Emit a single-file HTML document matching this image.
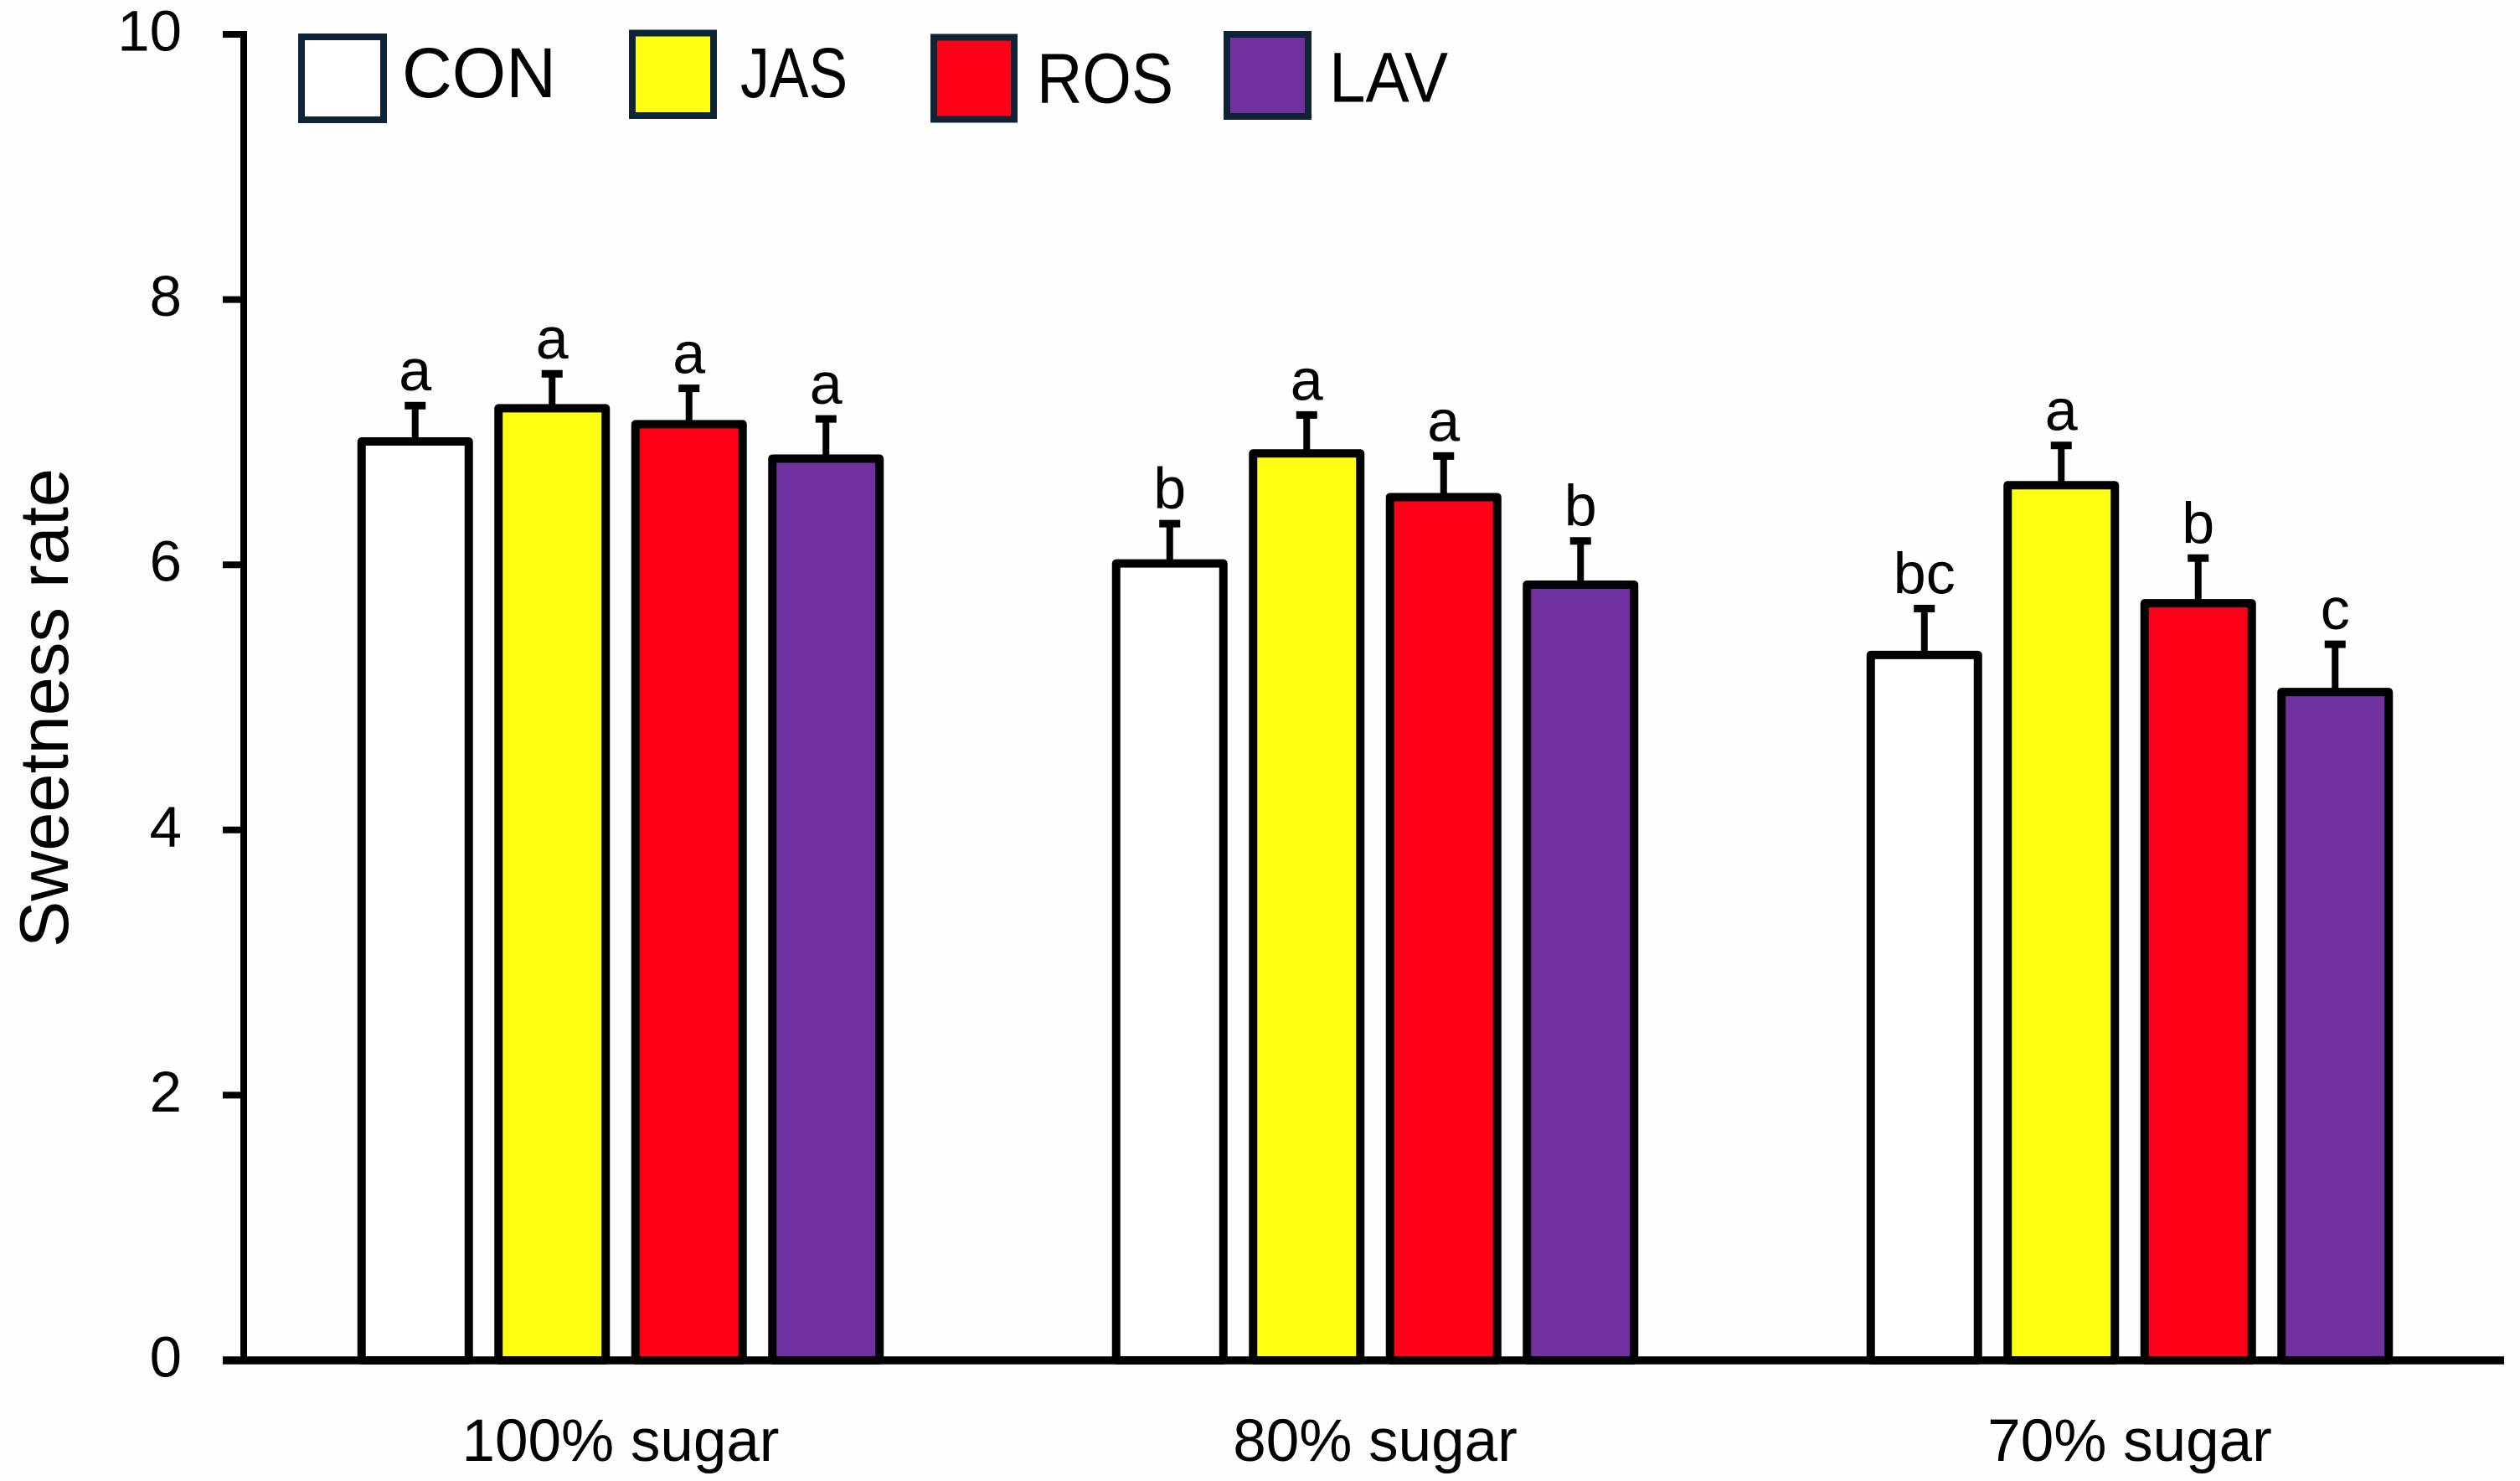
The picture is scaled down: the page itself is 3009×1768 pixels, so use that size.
<!DOCTYPE html>
<html>
<head>
<meta charset="utf-8">
<title>Sweetness rate chart</title>
<style>
html,body{margin:0;padding:0;background:#fff;}
svg{display:block;}
text{font-family:"Liberation Sans",Arial,sans-serif;fill:#000;}
</style>
</head>
<body>
<svg id="chart" xmlns="http://www.w3.org/2000/svg" width="3009" height="1768" viewBox="0 0 3009 1768">
  <rect x="0" y="0" width="3009" height="1768" fill="#fefefe"/>
  <text transform="translate(81 845) rotate(-90)" text-anchor="middle" font-size="83">Sweetness rate</text>
  <g id="bars"></g>
  <g id="axes"></g>
  <g>
    <g>
      <rect x="360" y="44" width="98" height="99" fill="#ffffff" stroke="#0f2437" stroke-width="8"/>
      <text x="480" y="116" font-size="84" textLength="184" lengthAdjust="spacingAndGlyphs">CON</text>
    </g>
    <g>
      <rect x="755" y="39.500" width="97" height="98.500" fill="#ffff14" stroke="#0f2437" stroke-width="8"/>
      <text x="884" y="116" font-size="84" textLength="128" lengthAdjust="spacingAndGlyphs">JAS</text>
    </g>
    <g>
      <rect x="1115" y="44.500" width="96" height="98" fill="#ff0018" stroke="#0f2437" stroke-width="8"/>
      <text x="1238" y="122.500" font-size="84" textLength="163" lengthAdjust="spacingAndGlyphs">ROS</text>
    </g>
    <g>
      <rect x="1465" y="41" width="97" height="98" fill="#7030a0" stroke="#0f2437" stroke-width="8"/>
      <text x="1587" y="121.500" font-size="84" textLength="142" lengthAdjust="spacingAndGlyphs">LAV</text>
    </g>
  </g>
</svg>
<script>
var categories = ["100% sugar", "80% sugar", "70% sugar"];
var yTickLabels = [0, 2, 4, 6, 8, 10];
var seriesNames = ["con", "jas", "ros", "lav"];
var seriesColors = ["#ffffff", "#ffff14", "#ff0018", "#7030a0"];

var conValues = [6.93, 6.01, 5.32];
var jasValues = [7.18, 6.84, 6.60];
var rosValues = [7.06, 6.51, 5.71];
var lavValues = [6.80, 5.85, 5.04];

var conErrors = [0.27, 0.30, 0.35];
var jasErrors = [0.26, 0.29, 0.30];
var rosErrors = [0.27, 0.31, 0.34];
var lavErrors = [0.30, 0.33, 0.36];

var conLetters = ["a", "b", "bc"];
var jasLetters = ["a", "a", "a"];
var rosLetters = ["a", "a", "b"];
var lavLetters = ["a", "b", "c"];

var values = [conValues, jasValues, rosValues, lavValues];
var errors = [conErrors, jasErrors, rosErrors, lavErrors];
var letters = [conLetters, jasLetters, rosLetters, lavLetters];

var NS = "http://www.w3.org/2000/svg";
function yScale(v) { return 1624 - 158.3 * v; }
function groupCenter(g) { return 741 + 901 * g; }
function xScale(g, s) { return groupCenter(g) + (s - (seriesNames.length - 1) / 2) * 163.5; }
function make(tag, attrs, parent) {
  var el = document.createElementNS(NS, tag);
  for (var k in attrs) el.setAttribute(k, attrs[k]);
  parent.appendChild(el);
  return el;
}

var barsLayer = document.getElementById("bars");
var axesLayer = document.getElementById("axes");
var BAR_W = 128, BAR_STROKE = 10, ERR_W = 8, CAP_W = 25, CAP_H = 9;

categories.forEach(function (cat, g) {
  seriesNames.forEach(function (name, s) {
    var cx = xScale(g, s);
    var top = yScale(values[s][g]);
    var capY = yScale(values[s][g] + errors[s][g]);

    var line = make("line", { x1: cx, x2: cx, y1: top, y2: capY, stroke: "#000", "stroke-width": ERR_W }, barsLayer);
    
    

    var cap = make("line", { x1: cx - CAP_W / 2, x2: cx + CAP_W / 2, y1: capY, y2: capY, stroke: "#000", "stroke-width": CAP_H }, barsLayer);
    
    

    var bar = make("rect", {
      x: cx - BAR_W / 2, y: top, width: BAR_W, height: yScale(0) - top,
      fill: seriesColors[s], stroke: "#000", "stroke-width": BAR_STROKE, "stroke-linejoin": "round"
    }, barsLayer);
    
    

    var letter = make("text", { x: cx, y: capY - 18, "text-anchor": "middle", "font-size": 70 }, barsLayer);
    letter.textContent = letters[s][g];
    
    
  });

  var catLabel = make("text", { x: groupCenter(g), y: 1744, "text-anchor": "middle", "font-size": 71 }, axesLayer);
  catLabel.textContent = cat;
  
  
});

var yAxis = make("line", { x1: 291, x2: 291, y1: yScale(10) - 4, y2: yScale(0) + 4.5, stroke: "#000", "stroke-width": 8 }, axesLayer);



var xAxis = make("line", { x1: 266, x2: 2990, y1: yScale(0), y2: yScale(0), stroke: "#000", "stroke-width": 9.5 }, axesLayer);



yTickLabels.forEach(function (t) {
  var y = yScale(t);
  var tick = make("line", { x1: 266, x2: 291, y1: y, y2: y, stroke: "#000", "stroke-width": 8 }, axesLayer);
  
  

  var label = make("text", { x: 217, y: y + 19.500, "text-anchor": "end", "font-size": 69 }, axesLayer);
  label.textContent = t;
  
  
});
</script>
</body>
</html>
